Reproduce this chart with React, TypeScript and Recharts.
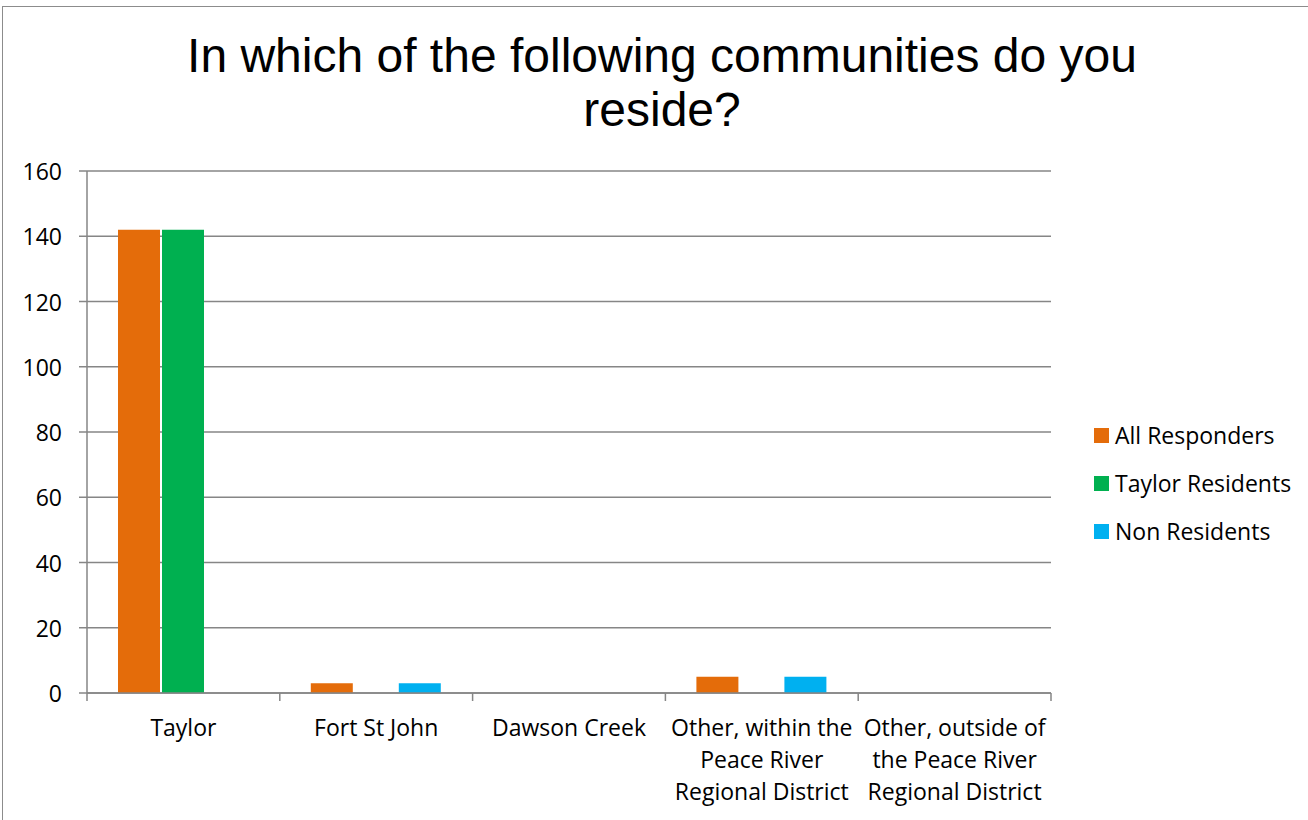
import React from 'react';
import { BarChart, Bar, XAxis, YAxis, CartesianGrid } from 'recharts';

const categories = [
  'Taylor',
  'Fort St John',
  'Dawson Creek',
  'Other, within the\nPeace River\nRegional District',
  'Other, outside of\nthe Peace River\nRegional District',
];
const allResponders = [142, 3, 0, 5, 0];
const taylorResidents = [142, 0, 0, 0, 0];
const nonResidents = [0, 3, 0, 5, 0];
const yTicks = [0, 20, 40, 60, 80, 100, 120, 140, 160];

const seriesInfo = [
  { key: 'all', name: 'All Responders', color: '#E46C0A' },
  { key: 'taylor', name: 'Taylor Residents', color: '#00B050' },
  { key: 'non', name: 'Non Residents', color: '#00B0F0' },
];

const data = categories.map((c, i) => ({
  name: c,
  all: allResponders[i],
  taylor: taylorResidents[i],
  non: nonResidents[i],
}));

const LABEL_FONT = '"Open Sans", Lato, sans-serif';
const AXIS_GRAY = '#868686';

const XTick = (props: any) => {
  const { x, y, payload, index } = props;
  const half = payload.offset || 0;
  const lines = String(payload.value).split('\n');
  return (
    <g>
      <line x1={x - half} x2={x - half} y1={y - 8} y2={y} stroke={AXIS_GRAY} strokeWidth={1.5} />
      {index === categories.length - 1 && (
        <line x1={x + half} x2={x + half} y1={y - 8} y2={y} stroke={AXIS_GRAY} strokeWidth={1.5} />
      )}
      {lines.map((ln, i) => (
        <text
          key={i}
          x={x}
          y={y + 26 + i * 32}
          textAnchor="middle"
          dominantBaseline="central"
          fontFamily={LABEL_FONT}
          fontSize={23}
          fill="#000"
        >
          {ln}
        </text>
      ))}
    </g>
  );
};

export default function App() {
  return (
    <div
      style={{
        position: 'absolute',
        left: 0,
        top: 0,
        width: 1308,
        height: 820,
        background: '#fff',
        overflow: 'hidden',
      }}
    >
      <div
        style={{
          position: 'absolute',
          left: 2,
          top: 6,
          width: 1320,
          height: 830,
          border: '1.5px solid #8c8c8c',
          boxSizing: 'border-box',
        }}
      />
      <div
        style={{
          position: 'absolute',
          left: 0,
          top: 29,
          width: 1324,
          textAlign: 'center',
          fontFamily: '"Liberation Sans", Arial, sans-serif',
          fontSize: 48,
          lineHeight: '54px',
          color: '#000',
        }}
      >
        In which of the following communities do you
        <br />
        reside?
      </div>
      <div style={{ position: 'absolute', left: 0, top: 0 }}>
        <BarChart
          width={1308}
          height={820}
          data={data}
          margin={{ top: 171, right: 257, bottom: 27, left: 27 }}
          barSize={42}
          barGap={2}
        >
          <CartesianGrid vertical={false} stroke={AXIS_GRAY} strokeWidth={1.5} />
          <XAxis
            dataKey="name"
            height={100}
            interval={0}
            tickLine={false}
            axisLine={{ stroke: AXIS_GRAY, strokeWidth: 1.5 }}
            tick={<XTick />}
          />
          <YAxis
            width={60}
            domain={[0, 160]}
            ticks={yTicks}
            interval={0}
            tickSize={8}
            tickMargin={17}
            tickLine={{ stroke: AXIS_GRAY, strokeWidth: 1.5 }}
            axisLine={{ stroke: AXIS_GRAY, strokeWidth: 1.5 }}
            tick={{ fontFamily: LABEL_FONT, fontSize: 23, fill: '#000', dy: 1 }}
          />
          {seriesInfo.map((s) => (
            <Bar key={s.key} dataKey={s.key} name={s.name} fill={s.color} isAnimationActive={false} />
          ))}
        </BarChart>
      </div>
      <div
        style={{
          position: 'absolute',
          left: 1094,
          top: 411,
          fontFamily: LABEL_FONT,
          fontSize: 23,
          color: '#000',
        }}
      >
        {seriesInfo.map((s) => (
          <div key={s.key} style={{ display: 'flex', alignItems: 'center', height: 48, whiteSpace: 'nowrap' }}>
            <span style={{ width: 15, height: 15, background: s.color, display: 'inline-block', marginRight: 6 }} />
            <span>{s.name}</span>
          </div>
        ))}
      </div>
    </div>
  );
}
